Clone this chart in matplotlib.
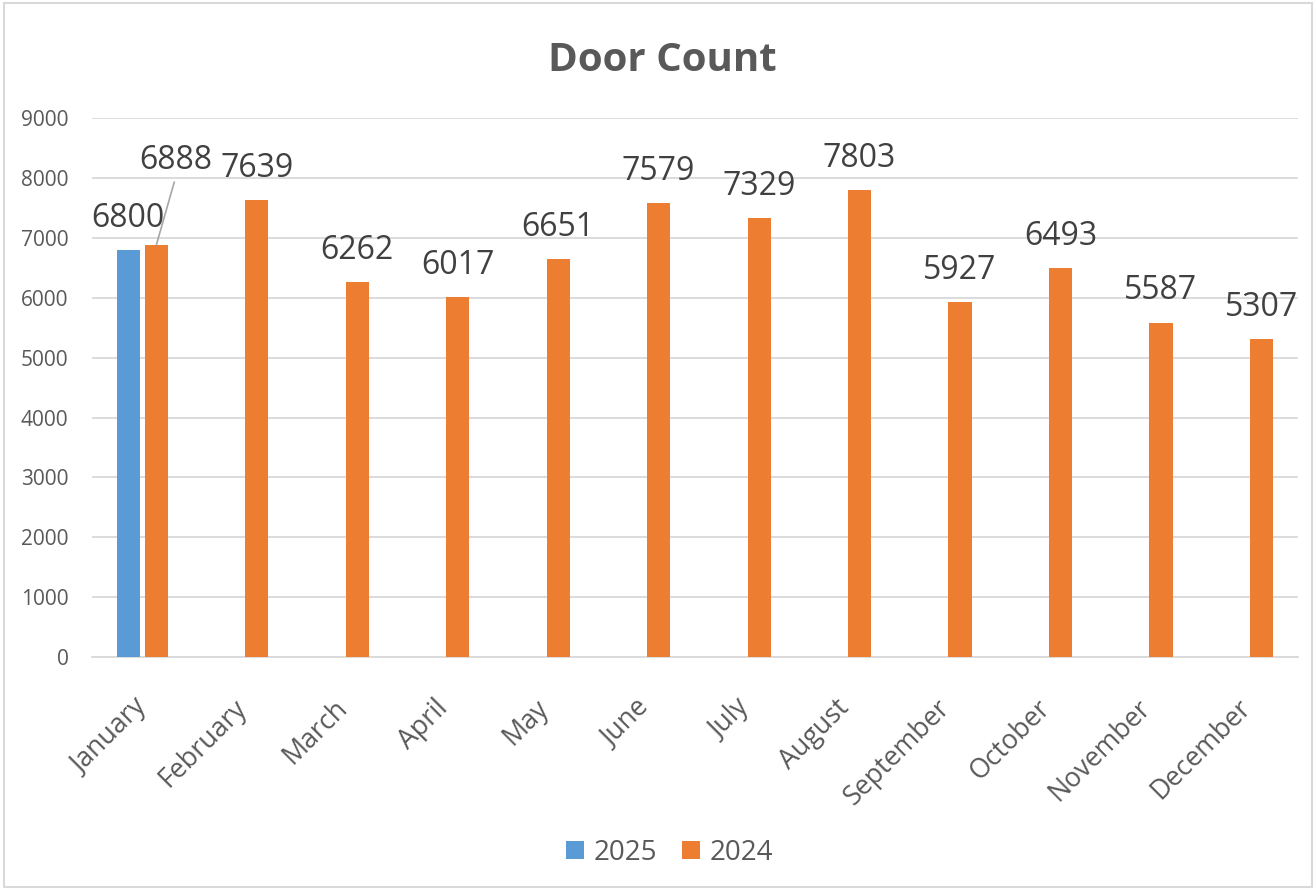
import matplotlib.pyplot as plt
import numpy as np
from matplotlib.patches import Rectangle

# data
months = ["January", "February", "March", "April", "May", "June", "July",
          "August", "September", "October", "November", "December"]
door_2025 = [6800]
door_2024 = [6888, 7639, 6262, 6017, 6651, 7579, 7329, 7803, 5927, 6493, 5587, 5307]

blue = "#5B9BD5"
orange = "#ED7D31"
text_gray = "#595959"
grid_gray = "#D9D9D9"

plt.rcParams["font.family"] = ["Open Sans", "DejaVu Sans"]

fig = plt.figure(figsize=(13.16, 8.9), dpi=100)
ax = fig.add_axes([0.070, 0.262, 0.916, 0.605])

x = np.arange(len(months))
w = 0.23
off = 0.14

b25 = ax.bar(x[:len(door_2025)] - off, door_2025, w, color=blue, label="2025", zorder=3)
b24 = ax.bar(x + off, door_2024, w, color=orange, label="2024", zorder=3)

ax.set_xlim(-0.5, len(months) - 0.5)
ax.set_ylim(0, 9000)
ax.set_yticks(range(0, 9001, 1000))
ax.grid(axis="y", color=grid_gray, linewidth=1.3, zorder=0)
ax.set_axisbelow(True)
for s in ["top", "right", "left"]:
    ax.spines[s].set_visible(False)
ax.spines["bottom"].set_color(grid_gray)
ax.spines["bottom"].set_linewidth(1.3)
ax.tick_params(axis="both", length=0, labelcolor=text_gray)
ax.tick_params(axis="y", labelsize=15, pad=17)
ax.set_xticks(x)
ax.set_xticklabels(months, rotation=45, ha="right", va="center",
                   rotation_mode="anchor", fontsize=19.3)
ax.tick_params(axis="x", pad=34)

# data labels
for i, v in enumerate(door_2025):
    ax.annotate(str(v), (x[i] - off, v), xytext=(0, 11), textcoords="offset points",
                ha="center", va="bottom", fontsize=23, color="#404040")
for i, v in enumerate(door_2024):
    if i == 0:
        ax.annotate(str(v), (x[i] + off, v), xytext=(14, 61), textcoords="offset points",
                    ha="center", va="center", fontsize=23, color="#404040",
                    arrowprops=dict(arrowstyle="-", color="#A6A6A6", lw=1.2,
                                    shrinkA=2, shrinkB=0, relpos=(0.5, 0.0)))
    else:
        ax.annotate(str(v), (x[i] + off, v), xytext=(0, 11), textcoords="offset points",
                    ha="center", va="bottom", fontsize=23, color="#404040")

fig.text(0.503, 0.932, "Door Count", ha="center", va="center", fontsize=29,
         fontweight="bold", color=text_gray)

fig.legend(handles=[b25, b24], labels=["2025", "2024"], loc="center",
           bbox_to_anchor=(0.509, 0.042), ncol=2, frameon=False, fontsize=20,
           handlelength=0.65, handleheight=0.65, handletextpad=0.35, columnspacing=0.9,
           labelcolor=text_gray)

fig.add_artist(Rectangle((0.003, 0.003), 0.994, 0.994, transform=fig.transFigure,
                         fill=False, edgecolor=grid_gray, linewidth=1.5))

fig.savefig("out.png", dpi=100)
